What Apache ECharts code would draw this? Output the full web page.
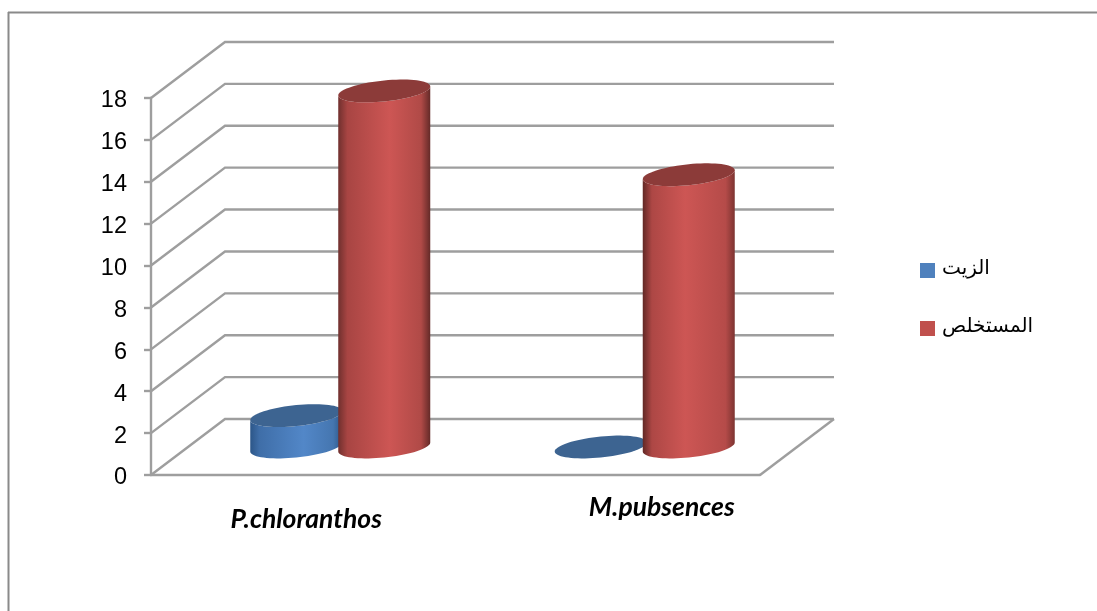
<!DOCTYPE html>
<html>
<head>
<meta charset="utf-8">
<style>html,body{margin:0;padding:0;background:#fff}#chart{width:1097px;height:611px}</style>
<script src="https://cdn.jsdelivr.net/npm/echarts@6/dist/echarts.min.js"></script>
</head>
<body>
<div id="chart"></div>
<script>
// Yield of oil and extract per plant species
const categories = ['P.chloranthos', 'M.pubsences'];
const oilName = 'الزيت';
const extractName = 'المستخلص';
const oilValues = [1.5, 0];
const extractValues = [17, 13];
const yTicks = [0, 2, 4, 6, 8, 10, 12, 14, 16, 18];

// Oblique projection of the chart box
const DEPTH_X = 74, DEPTH_Y = -56;
const GRID_COLOR = '#9e9e9e';
const GRID_WIDTH = 2.4;

// Cylinder footprint: half width, ellipse tilt and ellipse minor half axis
const RADIUS = 46, TILT = 4.5, MINOR = 10.5;
const BAR_SHIFT = 44;

// Horizontal side shading per category: [left edge, shoulder, crest, crest position, shoulder, right edge]
const redShade = [
  ['#70302e', '#a84543', '#cd5654', 0.56, '#b04a47', '#642a28'],
  ['#622825', '#ad4745', '#cd5654', 0.46, '#b54b49', '#7d3431']
];
const blueShade = [
  ['#2c5688', '#3f6ea8', '#5287c8', 0.58, '#4576b0', '#2c5688'],
  ['#2c5688', '#3f6ea8', '#5287c8', 0.46, '#4576b0', '#2c5688']
];

function sideFill(s) {
  return {
    type: 'linear', x: 0, y: 0, x2: 1, y2: 0,
    colorStops: [
      { offset: 0, color: s[0] },
      { offset: 0.1, color: s[1] },
      { offset: s[3], color: s[2] },
      { offset: 0.9, color: s[4] },
      { offset: 1, color: s[5] }
    ]
  };
}

// Point on the tilted ellipse around (cx, cy)
function rim(cx, cy, t) {
  return [cx + RADIUS * Math.cos(t), cy - TILT * Math.cos(t) + MINOR * Math.sin(t)];
}
function ellipsePoints(cx, cy) {
  const pts = [];
  for (let i = 0; i < 72; i++) pts.push(rim(cx, cy, i / 72 * Math.PI * 2));
  return pts;
}

function cylinderRenderer(shade, capColor, direction) {
  return function (params, api) {
    const cat = api.value(0);
    const val = api.value(1);
    const base = api.coord([cat, 0]);
    const head = api.coord([cat, val]);
    const cx = base[0] + DEPTH_X / 2 + direction * BAR_SHIFT;
    const by = base[1] + DEPTH_Y / 2;
    const ty = head[1] + DEPTH_Y / 2;
    const children = [];
    if (val > 0) {
      const side = [];
      for (let i = 0; i <= 36; i++) side.push(rim(cx, by, Math.PI - i / 36 * Math.PI));
      for (let i = 0; i <= 36; i++) side.push(rim(cx, ty, i / 36 * Math.PI));
      children.push({ type: 'polygon', shape: { points: side }, style: { fill: sideFill(shade[cat]) } });
    }
    children.push({ type: 'polygon', shape: { points: ellipsePoints(cx, ty) }, style: { fill: capColor } });
    return { type: 'group', children: children };
  };
}

// Back wall, side wall and floor lines
function renderWalls(params, api) {
  const sys = params.coordSys;
  const tick = api.value(0);
  const p = api.coord([0, tick]);
  const left = sys.x, right = sys.x + sys.width;
  const children = [{
    type: 'polyline',
    shape: { points: [[left, p[1]], [left + DEPTH_X, p[1] + DEPTH_Y], [right + DEPTH_X, p[1] + DEPTH_Y]] },
    style: { fill: 'none', stroke: GRID_COLOR, lineWidth: GRID_WIDTH }
  }];
  if (tick === 0) {
    children.push({
      type: 'line',
      shape: { x1: right, y1: p[1], x2: right + DEPTH_X, y2: p[1] + DEPTH_Y },
      style: { stroke: GRID_COLOR, lineWidth: GRID_WIDTH }
    });
  }
  return { type: 'group', children: children };
}

const chart = echarts.init(document.getElementById('chart'), null, { renderer: 'canvas' });
chart.setOption({
  animation: false,
  backgroundColor: '#ffffff',
  graphic: [
    { type: 'line', shape: { x1: 8, y1: 12.5, x2: 1097, y2: 12.5 }, style: { stroke: '#8a8a8a', lineWidth: 2 } },
    { type: 'line', shape: { x1: 8.5, y1: 12, x2: 8.5, y2: 611 }, style: { stroke: '#8a8a8a', lineWidth: 2 } }
  ],
  legend: {
    orient: 'vertical',
    left: 915,
    top: 253,
    itemWidth: 15,
    itemHeight: 15,
    itemGap: 38,
    icon: 'rect',
    data: [oilName, extractName],
    formatter: '{t|{name}}',
    textStyle: {
      rich: {
        t: {
          fontFamily: 'Liberation Sans, DejaVu Sans, sans-serif',
          fontSize: 20,
          color: '#000',
          padding: [0, 0, 5, 2]
        }
      }
    }
  },
  grid: { left: 151, top: 98, width: 609, height: 377 },
  xAxis: {
    type: 'category',
    data: [
      { value: categories[0], textStyle: { padding: [12, 0, 0, 6] } },
      { value: categories[1], textStyle: { padding: [0, 0, 0, 108] } }
    ],
    axisLine: { lineStyle: { color: GRID_COLOR, width: GRID_WIDTH } },
    axisTick: { show: false },
    axisLabel: {
      margin: 19,
      interval: 0,
      fontFamily: 'Lato, sans-serif',
      fontWeight: 'bold',
      fontStyle: 'italic',
      fontSize: 26.5,
      color: '#000'
    }
  },
  yAxis: {
    type: 'value',
    min: 0,
    max: 18,
    interval: 2,
    axisLine: { show: true, lineStyle: { color: GRID_COLOR, width: GRID_WIDTH } },
    axisTick: { show: true, length: 7, lineStyle: { color: GRID_COLOR, width: GRID_WIDTH } },
    splitLine: { show: false },
    axisLabel: {
      margin: 24,
      formatter: '{n|{value}}',
      rich: {
        n: {
          padding: [6, 0, 0, 0],
          fontFamily: 'Liberation Sans, Arial, sans-serif',
          fontSize: 23.5,
          color: '#000'
        }
      }
    }
  },
  series: [
    {
      type: 'custom',
      silent: true,
      z: 1,
      encode: { y: 0 },
      data: yTicks.map(t => [t]),
      renderItem: renderWalls
    },
    {
      name: oilName,
      type: 'custom',
      z: 2,
      itemStyle: { color: '#4f81bd' },
      encode: { x: 0, y: 1 },
      data: oilValues.map((v, i) => [i, v]),
      renderItem: cylinderRenderer(blueShade, '#3d6491', -1)
    },
    {
      name: extractName,
      type: 'custom',
      z: 3,
      itemStyle: { color: '#c0504d' },
      encode: { x: 0, y: 1 },
      data: extractValues.map((v, i) => [i, v]),
      renderItem: cylinderRenderer(redShade, '#8c3b39', 1)
    }
  ]
});
</script>
</body>
</html>
